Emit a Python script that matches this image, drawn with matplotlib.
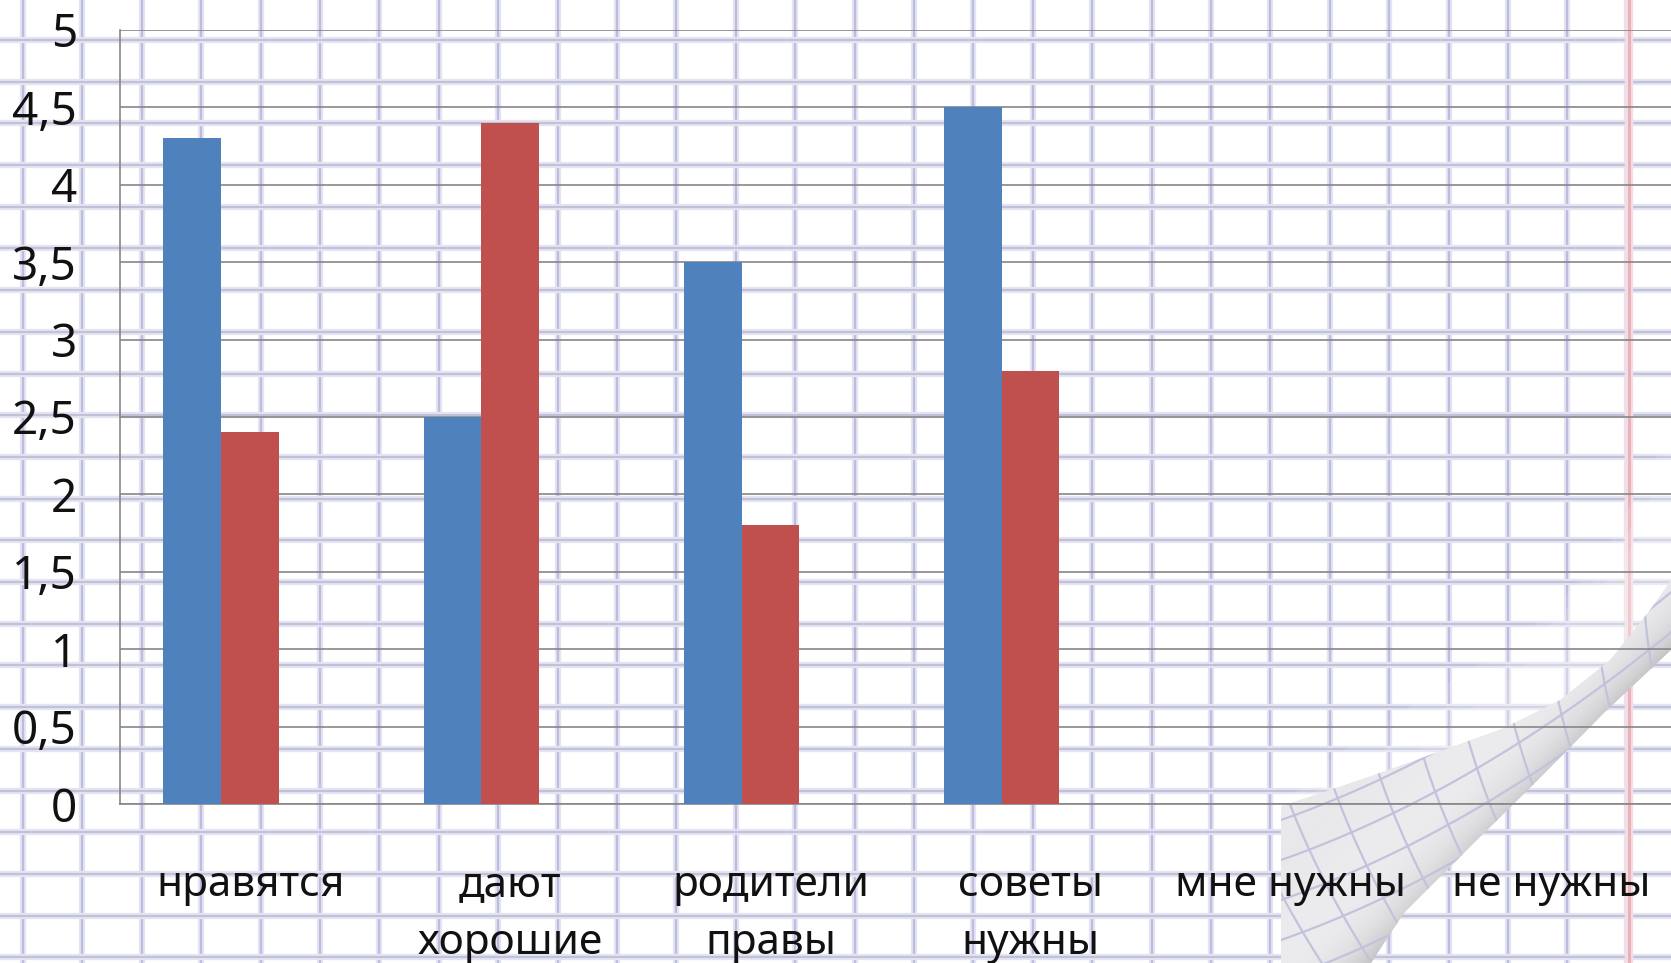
import numpy as np
import matplotlib
matplotlib.use("Agg")
import matplotlib.pyplot as plt
from matplotlib.patches import Polygon

# ---------------- data ----------------
categories = ['нравятся', 'дают\nхорошие', 'родители\nправы', 'советы\nнужны', 'мне нужны', 'не нужны']
series1 = [4.3, 2.5, 3.5, 4.5, 0, 0]
series2 = [2.4, 4.4, 1.8, 2.8, 0, 0]
series3 = [0, 0, 0, 0, 0, 0]
yticks = [0, 0.5, 1, 1.5, 2, 2.5, 3, 3.5, 4, 4.5, 5]
ytick_labels = ['0', '0,5', '1', '1,5', '2', '2,5', '3', '3,5', '4', '4,5', '5']

plt.rcParams['font.family'] = ['Noto Sans', 'DejaVu Sans']

W, H = 1671, 963
fig = plt.figure(figsize=(W / 100, H / 100), dpi=100)
fig.patch.set_facecolor('white')

# ---------------- graph-paper background ----------------
bg = fig.add_axes([0, 0, 1, 1], zorder=0)
bg.set_xlim(0, W)
bg.set_ylim(H, 0)
bg.axis('off')
bg.set_facecolor('white')

for x in np.arange(23, W + 60, 59.4):
    bg.plot([x, x], [0, H], color='#e4e4f2', lw=4.5, solid_capstyle='butt', zorder=1)
    bg.plot([x, x], [0, H], color='#bcbcdf', lw=1.6, solid_capstyle='butt', zorder=1)
for y in np.arange(40, H + 42, 41.7):
    bg.plot([0, W], [y, y], color='#e4e5f0', lw=4.5, solid_capstyle='butt', zorder=1)
    bg.plot([0, W], [y, y], color='#c0c2dc', lw=1.6, solid_capstyle='butt', zorder=1)

# red margin line
bg.plot([1629, 1629], [0, H], color='#f6dde2', lw=6, zorder=2)
bg.plot([1629, 1629], [0, H], color='#eab2bc', lw=2.2, zorder=2)

# soft light wash above the curl (graded by layering)
for a, off in [(0.12, 0), (0.12, 25), (0.12, 50)]:
    wash_pts = [(1281, 806), (1330, 760 + off), (1420, 700 + off), (1520, 640 + off * 0.6),
                (1600, 560 + off * 0.6), (1645, 480 + off), (1671, 430 + off * 1.5),
                (1671, 580), (1650, 610), (1610, 660),
                (1560, 700), (1504, 728), (1438, 752), (1371, 776), (1321, 793)]
    bg.add_patch(Polygon(wash_pts, closed=True, facecolor='white', alpha=a,
                         edgecolor='none', zorder=2.5))

# page curl (decoration)
upper = [(1281, 963), (1281, 806), (1321, 793), (1371, 776), (1438, 752),
         (1504, 728), (1560, 700), (1610, 660), (1650, 610), (1671, 580)]
fold = [(1671, 650), (1604, 713), (1538, 780), (1471, 846), (1404, 913), (1371, 963)]
curl_pts = upper + fold
curl = Polygon(curl_pts, closed=True, facecolor='none', edgecolor='none')
bg.add_patch(curl)

yy, xx = np.mgrid[0:H, 0:W]
p0 = np.array([1371.0, 963.0])
d = np.array([300.0, -313.0])
d /= np.linalg.norm(d)
nrm = np.array([d[1], -d[0]])
t = (xx - p0[0]) * nrm[0] + (yy - p0[1]) * nrm[1]
dist = np.abs(t)
shade = 0.975 - 0.21 * np.exp(-dist / 28.0) - 0.06 * np.exp(-((dist - 140) / 90.0) ** 2)
img = np.clip(np.dstack([shade, shade, shade * 1.01]), 0, 1)
im = bg.imshow(img, extent=(0, W, H, 0), zorder=3, interpolation='bilinear')
im.set_clip_path(curl)

for k in range(-25, 25):
    x0 = 1281
    xs = np.linspace(1270, 1680, 60)
    ys = 820 + k * 40 - 0.35 * (xs - x0) - 0.0006 * (xs - x0) ** 2
    ln, = bg.plot(xs, ys, color='#c2c2dc', lw=1.6, zorder=4)
    ln.set_clip_path(curl)
for k in range(-20, 20):
    x0 = 1281 + k * 50
    ys = np.linspace(600, 1000, 60)
    xs = x0 + 0.35 * (ys - 780) + 0.0008 * (ys - 780) ** 2
    ln, = bg.plot(xs, ys, color='#c2c2dc', lw=1.6, zorder=4)
    ln.set_clip_path(curl)

# ---------------- chart ----------------
left_px, top_px, bottom_px, right_px = 120, 30, 804, 1681
ax = fig.add_axes([left_px / W, (H - bottom_px) / H,
                   (right_px - left_px) / W, (bottom_px - top_px) / H], zorder=2)
ax.set_facecolor('none')

x = np.arange(len(categories))
w = 1 / 4.5
ax.bar(x - w, series1, width=w, color='#4F81BD', zorder=3)
ax.bar(x, series2, width=w, color='#C0504D', zorder=3)
ax.bar(x + w, series3, width=w, color='#9BBB59', zorder=3)

ax.set_xlim(-0.5, len(categories) - 0.5)
ax.set_ylim(0, 5)
ax.set_yticks(yticks)
ax.set_yticklabels(ytick_labels)
ax.set_xticks(x)
ax.set_xticklabels(categories, linespacing=1.5)
ax.yaxis.grid(True, color='#868686', lw=1.2, zorder=1)
ax.set_axisbelow(True)
for s in ['top', 'right']:
    ax.spines[s].set_visible(False)
for s in ['left', 'bottom']:
    ax.spines[s].set_color('#868686')
    ax.spines[s].set_linewidth(1.2)
ax.tick_params(axis='y', length=0, pad=31, labelsize=33, labelcolor='#111111')
ax.tick_params(axis='x', length=0, pad=43, labelsize=30.5, labelcolor='#111111')

fig.savefig('out.png', dpi=100)
